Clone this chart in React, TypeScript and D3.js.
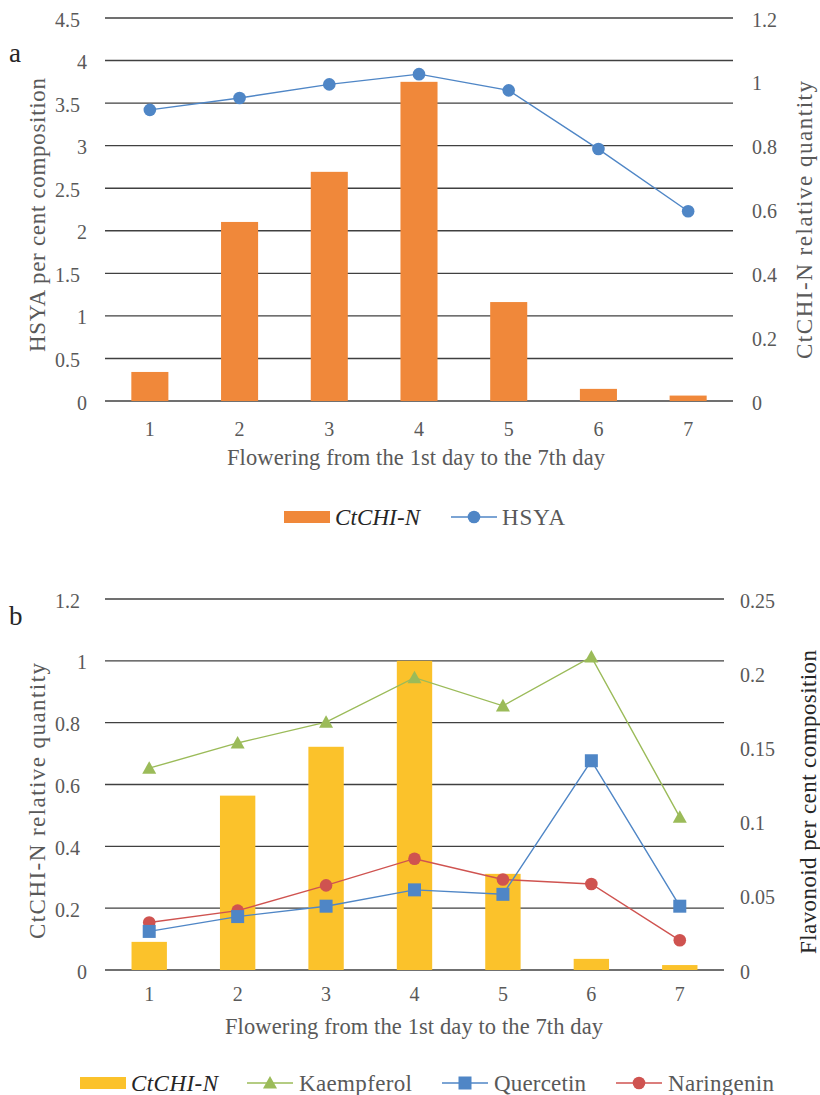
import * as d3 from 'd3';

// day 1..7 of flowering
const days = ['1', '2', '3', '4', '5', '6', '7'];

// panel a
const chiA = [0.091, 0.561, 0.718, 1.0, 0.31, 0.038, 0.017];
const hsya = [3.42, 3.56, 3.72, 3.84, 3.65, 2.96, 2.23];
const leftTicksA = [0, 0.5, 1, 1.5, 2, 2.5, 3, 3.5, 4, 4.5];
const rightTicksA = [0, 0.2, 0.4, 0.6, 0.8, 1, 1.2];

// panel b
const chiB = [0.091, 0.564, 0.722, 1.0, 0.311, 0.036, 0.016];
const kaempferol = [0.136, 0.153, 0.167, 0.197, 0.178, 0.211, 0.103];
const quercetin = [0.026, 0.036, 0.043, 0.054, 0.051, 0.141, 0.043];
const naringenin = [0.032, 0.040, 0.057, 0.075, 0.061, 0.058, 0.020];
const leftTicksB = [0, 0.2, 0.4, 0.6, 0.8, 1, 1.2];
const rightTicksB = [0, 0.05, 0.1, 0.15, 0.2, 0.25];

const FONT = '"Liberation Serif", "Times New Roman", serif';
const TXT = '#595959';
const DARK = '#262626';
const GRID = '#404040';
const ORANGE = '#F0883A';
const BLUE = '#4F86C6';
const YELLOW = '#FBC22B';
const GREEN = '#9BBB59';
const RED = '#CF5350';

// integer labels sit a bit further right than decimal ones in the original
const leftEdge = (t) => (Number.isInteger(t) ? 87 : 80);

function Marker({ shape, x, y, color }) {
  if (shape === 'circle') return <circle cx={x} cy={y} r={6.3} fill={color} />;
  if (shape === 'square') return <rect x={x - 6.5} y={y - 6.5} width={13} height={13} fill={color} />;
  const s = 7;
  return <path d={`M${x},${y - s}L${x + s},${y + s * 0.8}L${x - s},${y + s * 0.8}Z`} fill={color} />;
}

function VTitle({ x, y, len, text, fill }) {
  return (
    <text transform={`translate(${x},${y}) rotate(-90)`} textAnchor="middle" fontSize={23} fill={fill} textLength={len}>{text}</text>
  );
}

function PanelA() {
  const x = d3.scaleBand().domain(days).range([105, 733]).paddingInner(0.587).paddingOuter(0.2935);
  const yL = d3.scaleLinear().domain([0, 4.5]).range([401, 18]);
  const yR = d3.scaleLinear().domain([0, 1.2]).range([401, 18]);
  const cx = (d) => x(d) + x.bandwidth() / 2;
  const line = d3.line().x((d, i) => cx(days[i])).y((d) => yL(d));
  return (
    <g>
      <text x={9} y={62} fontSize={27} fill={DARK}>a</text>
      {leftTicksA.map((t) => (
        <g key={t}>
          <line x1={105} x2={733} y1={yL(t)} y2={yL(t)} stroke={GRID} strokeWidth={1.4} />
          <text x={leftEdge(t)} y={yL(t) + 8.5} textAnchor="end" fontSize={20} fill={TXT}>{t}</text>
        </g>
      ))}
      {rightTicksA.map((t) => (
        <text key={t} x={752} y={yR(t) + 8.5} fontSize={20} fill={TXT}>{t}</text>
      ))}
      {chiA.map((v, i) => (
        <rect key={i} x={x(days[i])} y={yR(v)} width={x.bandwidth()} height={yR(0) - yR(v)} fill={ORANGE} />
      ))}
      <path d={line(hsya)} fill="none" stroke={BLUE} strokeWidth={1.4} />
      {hsya.map((v, i) => <Marker key={i} shape="circle" x={cx(days[i])} y={yL(v)} color={BLUE} />)}
      {days.map((d) => (
        <text key={d} x={cx(d)} y={436} textAnchor="middle" fontSize={20} fill={TXT}>{d}</text>
      ))}
      <text x={416} y={465} textAnchor="middle" fontSize={22.5} fill={TXT} textLength={378}>Flowering from the 1st day to the 7th day</text>
      <VTitle x={45} y={215} len={274} text="HSYA per cent composition" fill={TXT} />
      <VTitle x={812} y={220} len={278} text="CtCHI-N relative quantity" fill={TXT} />
      <rect x={284} y={511} width={46} height={12} fill={ORANGE} />
      <text x={335} y={525} fontSize={23} fontStyle="italic" fill={DARK} textLength={85}>CtCHI-N</text>
      <line x1={451} x2={497} y1={517} y2={517} stroke={BLUE} strokeWidth={1.4} />
      <Marker shape="circle" x={474} y={517} color={BLUE} />
      <text x={502} y={525} fontSize={23} fill={TXT} textLength={63}>HSYA</text>
    </g>
  );
}

function PanelB() {
  const x = d3.scaleBand().domain(days).range([105, 724]).paddingInner(0.6).paddingOuter(0.3);
  const yL = d3.scaleLinear().domain([0, 1.2]).range([970, 599]);
  const yR = d3.scaleLinear().domain([0, 0.25]).range([970, 599]);
  const cx = (d) => x(d) + x.bandwidth() / 2;
  const line = d3.line().x((d, i) => cx(days[i])).y((d) => yR(d));
  const series = [
    { name: 'Kaempferol', values: kaempferol, color: GREEN, shape: 'triangle', lx: 247, len: 113 },
    { name: 'Quercetin', values: quercetin, color: BLUE, shape: 'square', lx: 442, len: 92 },
    { name: 'Naringenin', values: naringenin, color: RED, shape: 'circle', lx: 616, len: 106 },
  ];
  const drawOrder = [series[0], series[2], series[1]];
  return (
    <g>
      <text x={9} y={625} fontSize={27} fill={DARK}>b</text>
      {leftTicksB.map((t) => (
        <g key={t}>
          <line x1={105} x2={724} y1={yL(t)} y2={yL(t)} stroke={GRID} strokeWidth={1.4} />
          <text x={leftEdge(t)} y={yL(t) + 8.5} textAnchor="end" fontSize={20} fill={TXT}>{t}</text>
        </g>
      ))}
      {rightTicksB.map((t) => (
        <text key={t} x={740} y={yR(t) + 8.5} fontSize={20} fill={TXT}>{t}</text>
      ))}
      {chiB.map((v, i) => (
        <rect key={i} x={x(days[i])} y={yL(v)} width={x.bandwidth()} height={yL(0) - yL(v)} fill={YELLOW} />
      ))}
      {drawOrder.map((s) => (
        <g key={s.name}>
          <path d={line(s.values)} fill="none" stroke={s.color} strokeWidth={1.4} />
          {s.values.map((v, i) => <Marker key={i} shape={s.shape} x={cx(days[i])} y={yR(v)} color={s.color} />)}
        </g>
      ))}
      {days.map((d) => (
        <text key={d} x={cx(d)} y={1001} textAnchor="middle" fontSize={20} fill={TXT}>{d}</text>
      ))}
      <text x={414} y={1034} textAnchor="middle" fontSize={22.5} fill={TXT} textLength={378}>Flowering from the 1st day to the 7th day</text>
      <VTitle x={45} y={801} len={276} text="CtCHI-N relative quantity" fill={TXT} />
      <VTitle x={816} y={802} len={304} text="Flavonoid per cent composition" fill={DARK} />
      <rect x={80} y={1077} width={46} height={12} fill={YELLOW} />
      <text x={131} y={1091} fontSize={23} fontStyle="italic" fill={DARK} textLength={87}>CtCHI-N</text>
      {series.map((s) => (
        <g key={s.name}>
          <line x1={s.lx} x2={s.lx + 46} y1={1083} y2={1083} stroke={s.color} strokeWidth={1.4} />
          <Marker shape={s.shape} x={s.lx + 23} y={1083} color={s.color} />
          <text x={s.lx + 52} y={1091} fontSize={23} fill={TXT} textLength={s.len}>{s.name}</text>
        </g>
      ))}
    </g>
  );
}

export default function App() {
  return (
    <svg width={820} height={1095} style={{ position: 'absolute', left: 0, top: 0, fontFamily: FONT }}>
      <rect width={820} height={1095} fill="#fff" />
      <PanelA />
      <PanelB />
    </svg>
  );
}
